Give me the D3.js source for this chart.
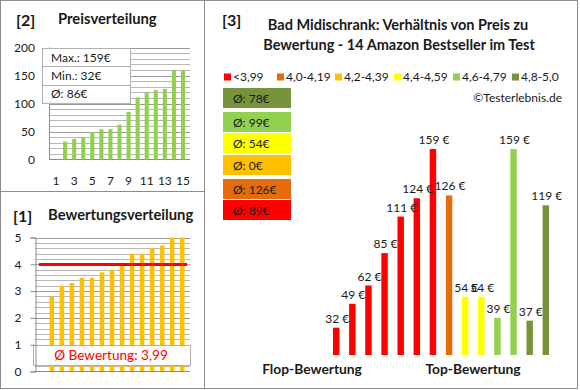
<!DOCTYPE html>
<html><head><meta charset="utf-8">
<script src="https://cdn.jsdelivr.net/npm/d3@7"></script>
<style>
html,body{margin:0;padding:0;background:#fff;}
svg{display:block;font-family:Lato,"Open Sans",sans-serif;}
</style></head>
<body>
<svg id="chart" width="580" height="390"></svg>
<script>
// ---- data ----
const priceCategories = d3.range(1, 16);
const priceTickLabels = [1, 3, 5, 7, 9, 11, 13, 15];
const pricesSorted = [32, 37, 39, 49, 54, 54, 62, 85, 111, 119, 124, 126, 159, 159]; // categories 2..15
const priceStats = ["Max.: 159€", "Min.: 32€", "Ø: 86€"];
const priceTicks = [0, 50, 100, 150, 200];

const ratingsSorted = [2.8, 3.2, 3.3, 3.5, 3.5, 3.7, 3.8, 4.0, 4.4, 4.4, 4.6, 4.7, 5.0, 5.0]; // categories 2..15
const ratingTicks = [0, 1, 2, 3, 4, 5];
const ratingMean = 3.99;
const ratingMeanLabel = "Ø Bewertung: 3,99";

const legendLabels = ["<3,99", "4,0-4,19", "4,2-4,39", "4,4-4,59", "4,6-4,79", "4,8-5,0"];
const groupColors = ["#FF0000", "#E46C0A", "#FFC000", "#FFFF00", "#92D050", "#77933C"];
const groupAvgLabels = ["Ø: 89€", "Ø: 126€", "Ø: 0€", "Ø: 54€", "Ø: 99€", "Ø: 78€"];
const mainPrices = [32, 49, 62, 85, 111, 124, 159, 126, 54, 54, 39, 159, 37, 119];
const mainGroups = [0, 0, 0, 0, 0, 0, 0, 1, 3, 3, 4, 4, 5, 5];

const svg = d3.select("#chart");
const border = "#8c8c8c";
const textCol = "#1a1a1a";

// ---- panel borders ----
svg.append("rect").attr("x", 0.5).attr("y", 0.5).attr("width", 577).attr("height", 388)
  .attr("fill", "none").attr("stroke", border);
svg.append("line").attr("x1", 204.5).attr("x2", 204.5).attr("y1", 0.5).attr("y2", 388.5).attr("stroke", border);
svg.append("line").attr("x1", 0.5).attr("x2", 204.5).attr("y1", 191.5).attr("y2", 191.5).attr("stroke", border);

// ================= [2] Preisverteilung =================
{
  const g = svg.append("g");
  g.append("text").attr("x", 16).attr("y", 26).attr("font-size", 16).attr("font-weight", "bold").attr("fill", textCol).text("[2]");
  g.append("text").attr("x", 58).attr("y", 24).attr("font-size", 14.8).attr("font-weight", "bold").attr("fill", textCol).text("Preisverteilung");

  const x = d3.scaleBand().domain(priceCategories).range([49, 190]).padding(0.55);
  const y = d3.scaleLinear().domain([0, 200]).range([159.5, 47.5]);

  g.append("g").selectAll("line").data(d3.range(10, 201, 10)).join("line")
    .attr("x1", 49).attr("x2", 190).attr("y1", d => Math.round(y(d)) + 0.5).attr("y2", d => Math.round(y(d)) + 0.5)
    .attr("stroke", d => d % 50 === 0 ? "#9a9a9a" : "#b8b8b8");
  g.append("line").attr("x1", 49.5).attr("x2", 49.5).attr("y1", y(200)).attr("y2", y(0)).attr("stroke", "#8c8c8c");
  g.append("line").attr("x1", 49).attr("x2", 190).attr("y1", y(0)).attr("y2", y(0)).attr("stroke", "#8c8c8c");

  g.append("g").selectAll("rect").data(pricesSorted).join("rect")
    .attr("x", (d, i) => x(priceCategories[i + 1])).attr("width", x.bandwidth())
    .attr("y", d => y(d)).attr("height", d => y(0) - y(d)).attr("fill", "#92D050");

  const ya = d3.axisLeft(y).tickValues(priceTicks).tickFormat(d3.format("d")).tickSize(0).tickPadding(0);
  g.append("g").attr("transform", "translate(35,0)").call(ya)
    .call(s => s.select(".domain").remove())
    .selectAll("text").attr("font-size", 12).attr("fill", textCol).attr("font-family", "Lato");

  const xa = d3.axisBottom(x).tickValues(priceTickLabels).tickSize(0).tickPadding(0);
  g.append("g").attr("transform", "translate(0,176)").call(xa)
    .call(s => s.select(".domain").remove())
    .selectAll("text").attr("font-size", 12).attr("fill", textCol).attr("font-family", "Lato");

  // stats box
  const bx = 42, by = 48, bw = 88, rh = 18.3;
  g.append("rect").attr("x", bx + 0.5).attr("y", by + 0.5).attr("width", bw).attr("height", rh * 3)
    .attr("fill", "#fff").attr("stroke", "#b0b0b0");
  g.append("g").selectAll("line").data([1, 2]).join("line")
    .attr("x1", bx).attr("x2", bx + bw).attr("y1", d => Math.round(by + rh * d) + 0.5).attr("y2", d => Math.round(by + rh * d) + 0.5)
    .attr("stroke", "#b0b0b0");
  g.append("g").selectAll("text").data(priceStats).join("text")
    .attr("x", bx + 9).attr("y", (d, i) => by + rh * i + 13.5)
    .attr("font-size", 12).attr("fill", textCol).text(d => d);
}

// ================= [1] Bewertungsverteilung =================
{
  const g = svg.append("g");
  g.append("text").attr("x", 13).attr("y", 222).attr("font-size", 16).attr("font-weight", "bold").attr("fill", textCol).text("[1]");
  g.append("text").attr("x", 48).attr("y", 220).attr("font-size", 14.8).attr("font-weight", "bold").attr("fill", textCol).text("Bewertungsverteilung");

  const x = d3.scaleBand().domain(priceCategories).range([34, 190]).padding(0.55);
  const y = d3.scaleLinear().domain([0, 5]).range([371.5, 237.5]);

  g.append("g").selectAll("line").data(d3.range(1, 26).map(v => v / 5)).join("line")
    .attr("x1", 35).attr("x2", 190).attr("y1", d => Math.round(y(d)) + 0.5).attr("y2", d => Math.round(y(d)) + 0.5)
    .attr("stroke", d => Math.abs(d - Math.round(d)) < 1e-6 ? "#9a9a9a" : "#b8b8b8");

  g.append("g").selectAll("rect").data(ratingsSorted).join("rect")
    .attr("x", (d, i) => x(priceCategories[i + 1])).attr("width", x.bandwidth())
    .attr("y", d => y(d)).attr("height", d => y(0) - y(d)).attr("fill", "#FFC000");

  g.append("line").attr("x1", 39).attr("x2", 187).attr("y1", y(ratingMean)).attr("y2", y(ratingMean))
    .attr("stroke", "#FF0000").attr("stroke-width", 3);

  // mean label box
  g.append("rect").attr("x", 33.5).attr("y", 345.5).attr("width", 157).attr("height", 20)
    .attr("fill", "#fff").attr("stroke", "#b0b0b0");
  g.append("text").attr("x", 111).attr("y", 360).attr("text-anchor", "middle")
    .attr("font-size", 13.6).attr("fill", "#FF0000").text(ratingMeanLabel);

  const ya = d3.axisLeft(y).tickValues(ratingTicks).tickFormat(d3.format("d")).tickSize(5).tickPadding(9);
  g.append("g").attr("transform", "translate(35.5,0)").call(ya)
    .call(s => s.select(".domain").attr("stroke", "#8c8c8c"))
    .call(s => s.selectAll(".tick line").attr("stroke", "#8c8c8c"))
    .selectAll("text").attr("font-size", 12).attr("fill", textCol).attr("font-family", "Lato");
  g.append("line").attr("x1", 35).attr("x2", 190).attr("y1", y(0)).attr("y2", y(0)).attr("stroke", "#8c8c8c");
}

// ================= [3] Main chart =================
{
  const g = svg.append("g");
  g.append("text").attr("x", 222).attr("y", 26).attr("font-size", 16).attr("font-weight", "bold").attr("fill", textCol).text("[3]");
  g.append("text").attr("x", 398).attr("y", 30).attr("text-anchor", "middle").attr("font-size", 14.5).attr("font-weight", "bold").attr("fill", textCol)
    .text("Bad Midischrank: Verhältnis von Preis zu");
  g.append("text").attr("x", 399).attr("y", 50).attr("text-anchor", "middle").attr("font-size", 14.5).attr("font-weight", "bold").attr("fill", textCol)
    .text("Bewertung - 14 Amazon Bestseller im Test");

  // legend
  const legX = [224, 277, 335, 394, 453, 512];
  const lg = g.append("g").selectAll("g").data(legendLabels).join("g")
    .attr("transform", (d, i) => `translate(${legX[i]},77)`);
  lg.append("rect").attr("x", 0).attr("y", -3.5).attr("width", 7).attr("height", 7).attr("fill", (d, i) => groupColors[i]);
  lg.append("text").attr("x", 9).attr("y", 4).attr("font-size", 12).attr("fill", textCol).text(d => d);

  g.append("text").attr("x", 562).attr("y", 102).attr("text-anchor", "end").attr("font-size", 12).attr("fill", textCol).text("©Testerlebnis.de");

  // average boxes (top to bottom: group 5..0)
  const boxOrder = [5, 4, 3, 2, 1, 0];
  const boxY = [88, 112, 133, 155, 179, 200];
  const bg = g.append("g").selectAll("g").data(boxOrder).join("g")
    .attr("transform", (d, i) => `translate(223,${boxY[i]})`);
  bg.append("rect").attr("width", 68).attr("height", 20).attr("fill", d => groupColors[d]);
  bg.append("text").attr("x", 10).attr("y", 14.5).attr("font-size", 12).attr("fill", textCol).text(d => groupAvgLabels[d]);

  const x = d3.scaleBand().domain(d3.range(mainPrices.length)).range([323.3, 558.7]).padding(0.6);
  const y = d3.scaleLinear().domain([12.6, 172.6]).range([355, 129.9]);

  g.append("g").selectAll("rect").data(mainPrices).join("rect")
    .attr("x", (d, i) => x(i)).attr("width", x.bandwidth())
    .attr("y", d => y(d)).attr("height", d => y(12.6) - y(d))
    .attr("fill", (d, i) => groupColors[mainGroups[i]]);

  g.append("g").selectAll("text").data(mainPrices).join("text")
    .attr("x", (d, i) => x(i) + x.bandwidth() / 2 + 1).attr("y", d => y(d) - 5)
    .attr("text-anchor", "middle").attr("font-size", 12).attr("fill", textCol)
    .text(d => d + " €");

  g.append("text").attr("x", 312).attr("y", 374).attr("text-anchor", "middle").attr("font-size", 13.8).attr("font-weight", "bold").attr("fill", textCol).text("Flop-Bewertung");
  g.append("text").attr("x", 473).attr("y", 374).attr("text-anchor", "middle").attr("font-size", 13.8).attr("font-weight", "bold").attr("fill", textCol).text("Top-Bewertung");
}
</script>
</body></html>
